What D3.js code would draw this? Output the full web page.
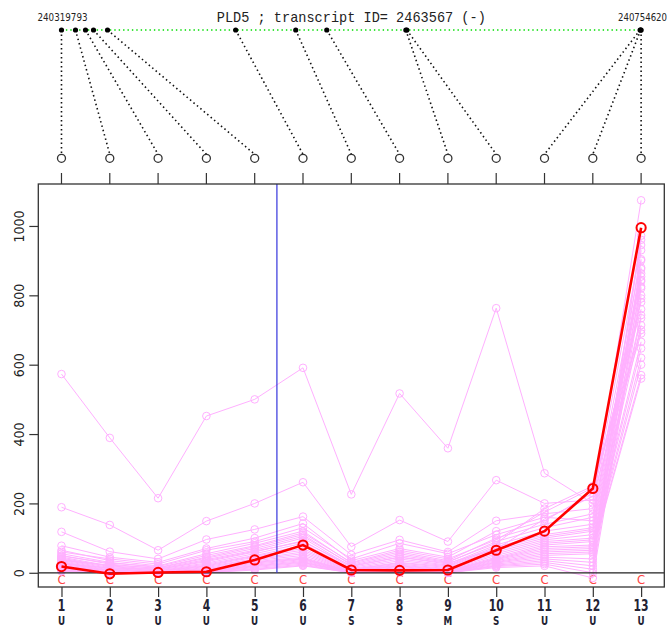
<!DOCTYPE html>
<html><head><meta charset="utf-8">
<script src="https://cdn.jsdelivr.net/npm/d3@7"></script>
<style>body{margin:0;background:#fff}svg{display:block}</style>
</head><body>
<script>
const title = "PLD5 ; transcript ID= 2463567 (-)";
const genomeStart = 240319793, genomeEnd = 240754620;
const exonIds = [1,2,3,4,5,6,7,8,9,10,11,12,13];
const exonStarts = [240319793,240330307,240337817,240343825,240354339,240450467,240495527,240518808,240578137,240578888,240753871,240754246,240754620];
const exonTypes = ["U","U","U","U","U","U","S","S","M","S","U","U","U"];
const cLabels = ["C","C","C","C","C","C","C","C","C","C","C","C","C"];
const yTicks = [0,200,400,600,800,1000];
const markerX = 5.46;
const highlight = [18,-3,1,3,37,80,8,7,8,65,120,243,995];
const series = [
 [573,389,215,452,500,591,226,517,359,763,287,200,1074],
 [189,138,65,149,200,261,75,152,90,267,200,210,945],
 [118,61,40,96,125,162,52,95,60,150,170,185,904],
 [78,45,30,70,100,142,35,70,45,120,160,150,876],
 [65,35,20,55,85,120,28,60,35,100,140,170,863],
 [55,30,15,45,75,110,22,50,30,90,130,160,854],
 [50,25,12,38,65,100,18,45,25,80,120,140,844],
 [45,20,10,32,60,92,15,40,22,75,110,130,825],
 [42,18,8,28,55,85,12,35,20,70,105,125,791],
 [40,15,6,25,50,78,10,30,18,65,100,120,743],
 [38,12,5,22,48,70,9,28,15,60,95,110,734],
 [35,10,4,20,45,65,8,25,12,55,90,100,714],
 [32,8,3,18,40,60,7,22,10,50,85,95,666],
 [30,6,2,15,38,55,6,20,8,45,80,90,647],
 [28,5,2,12,35,50,5,18,6,42,75,80,620],
 [25,4,1,10,32,45,4,15,5,40,70,75,600],
 [22,3,1,8,30,42,3,12,4,38,65,70,570],
 [20,2,0,6,28,40,3,10,3,35,60,65,560],
 [18,2,0,5,25,38,2,8,2,32,55,60,972],
 [15,1,0,4,22,35,2,6,2,30,50,55,960],
 [12,1,0,3,20,32,1,5,1,28,45,40,930],
 [10,0,0,2,18,30,1,4,1,25,40,30,900],
 [8,0,0,2,15,28,1,3,0,22,35,20,880],
 [6,0,0,1,12,25,0,2,0,20,30,10,840],
 [5,0,0,1,10,22,0,2,0,18,25,0,820],
 [4,0,0,0,8,20,0,1,0,15,20,-15,800],
 [60,40,25,65,90,130,40,85,55,110,150,230,780],
 [48,28,18,50,78,115,30,65,40,95,175,245,760],
 [36,22,14,42,70,105,25,55,32,85,185,250,700],
 [26,14,10,35,62,90,20,45,28,68,155,220,690]
];

const W = 669, H = 627;
const svg = d3.select("body").append("svg").attr("width", W).attr("height", H);
const L = 38.3, R = 664.3, T = 184, B = 587;
const x = d3.scaleLinear().domain([0.52, 13.48]).range([L, R]);
const y = d3.scaleLinear().domain([-41, 1121]).range([B, T]);
const g = d3.scaleLinear().domain([genomeStart, genomeEnd]).range([x(1), x(13)]);
const narrow = "'DejaVu Sans Condensed','Liberation Sans Narrow','DejaVu Sans',sans-serif";

// header
svg.append("text").attr("x", (L+R)/2).attr("y", 21.5).attr("text-anchor","middle")
  .attr("font-family","'Liberation Mono','DejaVu Sans Mono',monospace").attr("font-size",15)
  .attr("textLength",269).attr("lengthAdjust","spacingAndGlyphs").attr("fill","#222").text(title);
svg.append("text").attr("x", 37.5).attr("y", 20.5).attr("font-family",narrow).attr("font-size",10)
  .attr("textLength",50).attr("lengthAdjust","spacingAndGlyphs").attr("fill","#222").text(genomeStart);
svg.append("text").attr("x", 618).attr("y", 20.5).attr("font-family",narrow).attr("font-size",10)
  .attr("textLength",49).attr("lengthAdjust","spacingAndGlyphs").attr("fill","#222").text(genomeEnd);
const yDot = 30, yCirc = 158.3;
svg.append("line").attr("x1", g(genomeStart)).attr("x2", g(genomeEnd)).attr("y1", yDot).attr("y2", yDot)
  .attr("stroke","#00dd00").attr("stroke-width",1.4).attr("stroke-dasharray","1.4,3");
exonIds.forEach((e,i) => {
  svg.append("line").attr("x1", g(exonStarts[i])).attr("y1", yDot).attr("x2", x(e)).attr("y2", yCirc-4)
    .attr("stroke","#111").attr("stroke-width",1.6).attr("stroke-dasharray","1.5,3");
});
exonIds.forEach((e,i) => {
  svg.append("circle").attr("cx", g(exonStarts[i])).attr("cy", yDot).attr("r", 2.6).attr("fill","#000");
  svg.append("circle").attr("cx", x(e)).attr("cy", yCirc).attr("r", 4).attr("fill","none")
    .attr("stroke","#333").attr("stroke-width",1.3);
  svg.append("line").attr("x1", x(e)).attr("x2", x(e)).attr("y1", 173).attr("y2", T).attr("stroke","#333").attr("stroke-width",1.2);
});

// C labels
svg.append("g").selectAll("text").data(exonIds).join("text")
  .attr("x", d => x(d)).attr("y", 583.5).attr("text-anchor","middle")
  .attr("font-family",narrow).attr("font-size",13).attr("fill","#ff4444")
  .text((d,i) => cLabels[i]);

// pink series
const line = d3.line().x((d,i) => x(exonIds[i])).y(d => y(d));
const pink = "#ffb0ff";
const gp = svg.append("g");
series.forEach(s => {
  gp.append("path").attr("d", line(s)).attr("fill","none").attr("stroke",pink).attr("stroke-width",1);
  gp.selectAll(null).data(s).join("circle").attr("cx",(d,i)=>x(exonIds[i])).attr("cy",d=>y(d))
    .attr("r",3.8).attr("fill","none").attr("stroke",pink).attr("stroke-width",1);
});

// zero line
svg.append("line").attr("x1", L).attr("x2", R).attr("y1", y(0)).attr("y2", y(0)).attr("stroke","#222").attr("stroke-width",1.2);

// marker line
svg.append("line").attr("x1", x(markerX)).attr("x2", x(markerX)).attr("y1", T).attr("y2", y(0))
  .attr("stroke","#3333dd").attr("stroke-width",1.2);

// highlight
svg.append("path").attr("d", line(highlight)).attr("fill","none").attr("stroke","#ff0000").attr("stroke-width",2.6);
svg.append("g").selectAll("circle").data(highlight).join("circle")
  .attr("cx",(d,i)=>x(exonIds[i])).attr("cy",d=>y(d)).attr("r",4.6).attr("fill","none")
  .attr("stroke","#ff0000").attr("stroke-width",2);

// box
svg.append("rect").attr("x", L).attr("y", T).attr("width", R-L).attr("height", B-T)
  .attr("fill","none").attr("stroke","#333").attr("stroke-width",1.3);

// y axis
const ya = svg.append("g").attr("transform", `translate(${L},0)`)
  .call(d3.axisLeft(y).tickValues(yTicks).tickSize(9).tickFormat(d3.format("d")));
ya.select(".domain").remove();
ya.selectAll(".tick line").attr("stroke","#333").attr("stroke-width",1.2);
ya.selectAll(".tick text")
  .attr("x", null).attr("dy", "0.35em").attr("y", 0)
  .attr("transform", "translate(-19,0) rotate(-90)")
  .attr("text-anchor","middle").attr("font-family",narrow).attr("font-size",14).attr("fill","#222");

// x axis
const xa = svg.append("g").attr("transform", `translate(0,${B})`)
  .call(d3.axisBottom(x).tickValues(exonIds).tickSize(10).tickFormat(""));
xa.select(".domain").remove();
xa.selectAll(".tick line").attr("stroke","#333").attr("stroke-width",1.2);
svg.append("g").selectAll("text").data(exonIds).join("text")
  .attr("x", d => x(d)).attr("y", 611).attr("text-anchor","middle")
  .attr("font-family",narrow).attr("font-size",15).attr("font-weight","bold").attr("fill","#223")
  .attr("transform", d => `translate(${x(d)},611) scale(0.8,1) translate(${-x(d)},-611)`)
  .text(d => d);
svg.append("g").selectAll("text").data(exonIds).join("text")
  .attr("x", d => x(d)).attr("y", 625).attr("text-anchor","middle")
  .attr("font-family",narrow).attr("font-size",13).attr("font-weight","bold").attr("fill","#223")
  .attr("transform", d => `translate(${x(d)},625) scale(0.75,0.95) translate(${-x(d)},-625)`)
  .text((d,i) => exonTypes[i]);
</script>
</body></html>
